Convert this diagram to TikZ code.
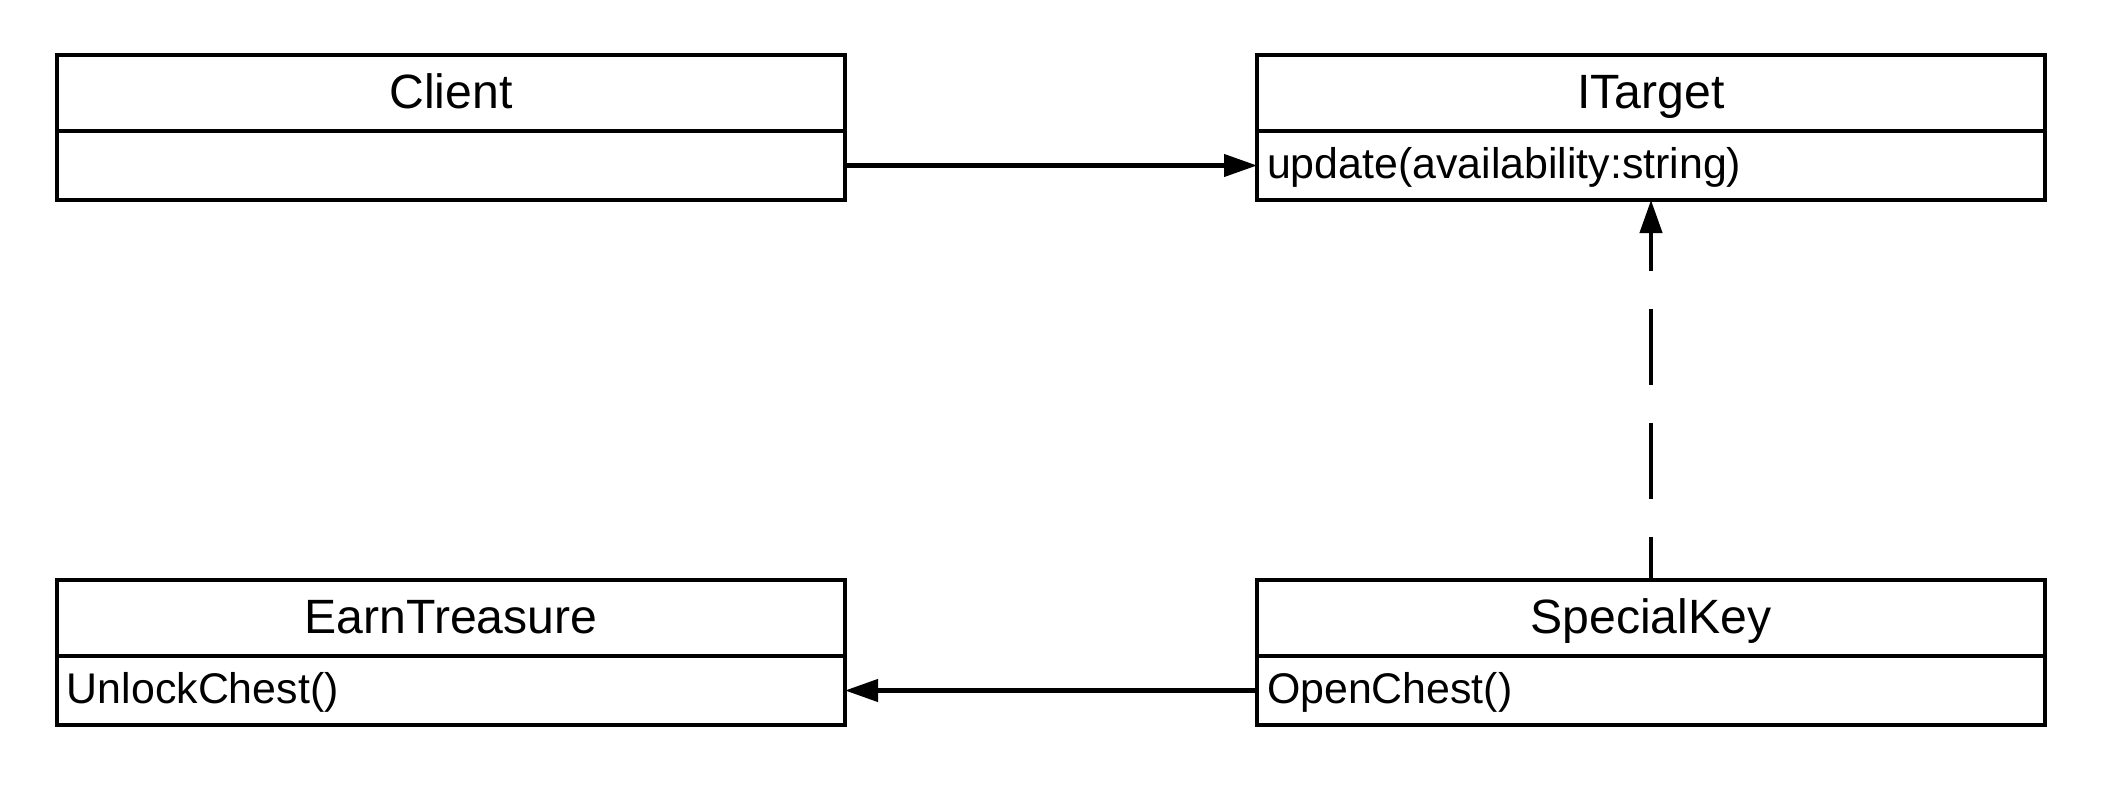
\documentclass[tikz,border=0pt]{standalone}
\usepackage{fontspec}
\setmainfont{Liberation Sans}
\usetikzlibrary{arrows.meta,positioning}

\begin{document}
\begin{tikzpicture}[
	head/.style={draw,line width=1.2pt,outer sep=0pt,inner sep=0pt,minimum width=7.88cm,minimum height=0.76cm,text height=1.7ex,text depth=0pt,font=\fontsize{13.7}{16}\selectfont},
	body/.style={draw,line width=1.2pt,outer sep=0pt,inner xsep=0.1cm,inner ysep=0pt,minimum height=0.69cm,text width=7.68cm,text height=1.38ex,text depth=0pt,align=left,font=\fontsize{12.2}{14}\selectfont},
	link/.style={line width=1.2pt,-{Triangle[length=0.33cm,width=0.22cm]}}]
	\useasboundingbox (0,0) rectangle (21.21,-7.88);

	\node[head] at (4.51,-0.93) (client) {Client};
	\node[body,below=0pt of client] (clientb) {};
	\node[head,right=4.12cm of client] (itarget) {ITarget};
	\node[body,below=0pt of itarget] (itargetb) {update(availability:string)};

	\node[head,below=3.8cm of clientb] (earn) {EarnTreasure};
	\node[body,below=0pt of earn] (earnb) {UnlockChest()};
	\node[head,right=4.12cm of earn] (special) {SpecialKey};
	\node[body,below=0pt of special] (specialb) {OpenChest()};

	\draw[link] (clientb.east) -- (itargetb.west);
	\draw[link,dash pattern=on 0.76cm off 0.38cm,dash phase=0.33cm] (special.north) -- (itargetb.south);
	\draw[link] (specialb.west) -- (earnb.east);
\end{tikzpicture}
\end{document}
